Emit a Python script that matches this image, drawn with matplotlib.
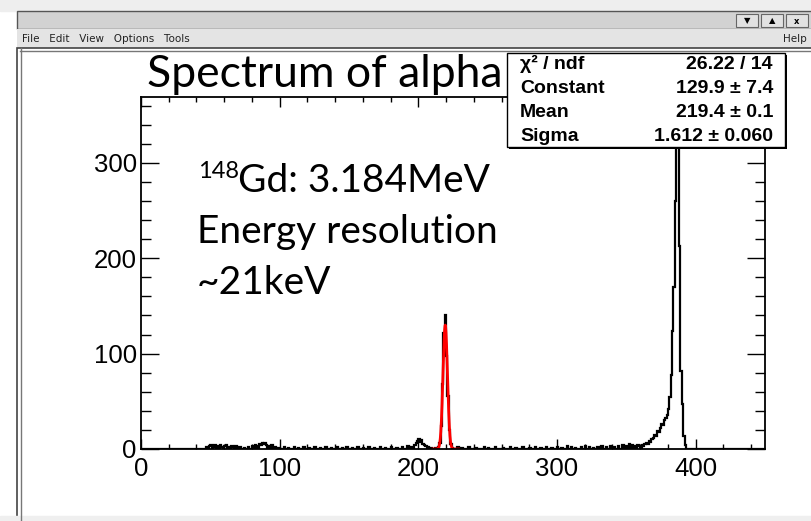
import numpy as np
import matplotlib
matplotlib.use("Agg")
import matplotlib.pyplot as plt
from matplotlib.patches import Rectangle

# --- data (1 channel per bin, 0..450) ---
noise_bins = [47, 49, 50, 52, 53, 55, 57, 58, 60, 61, 63, 65, 66, 68, 71, 74, 77, 80,
              82, 83, 85, 86, 87, 88, 89, 90, 92, 94, 96, 99, 103, 106, 110, 113, 117,
              121, 125, 129, 133, 137, 141, 145, 148, 152, 156, 160, 164, 168, 172, 176,
              180, 184, 188, 192, 195, 197, 198, 199, 200, 201, 202, 203, 204, 205, 207,
              209, 228, 231, 236, 241, 247, 250, 255, 261, 266, 270, 275, 280, 284, 288,
              292, 296, 300, 303, 307, 310, 313, 317, 320, 323, 326, 329, 332, 335, 338,
              341, 344, 347, 350, 352, 354, 356, 358, 359]
noise_counts = [2, 3, 4, 2, 4, 3, 4, 2, 3, 4, 2, 3, 2, 3, 2, 1, 2, 3,
                4, 3, 5, 4, 6, 5, 6, 4, 3, 4, 2, 1, 2, 1, 2, 1, 2,
                1, 2, 1, 2, 1, 2, 1, 2, 1, 2, 1, 2, 1, 2, 1,
                2, 1, 2, 3, 2, 4, 6, 8, 10, 7, 9, 5, 4, 3, 2,
                1, 2, 1, 2, 1, 2, 1, 2, 1, 2, 1, 2, 1, 2, 1,
                2, 1, 2, 1, 3, 2, 1, 2, 3, 2, 1, 2, 3, 2, 3,
                2, 3, 4, 3, 5, 4, 3, 4, 3]

gd_start = 212
gd_counts = [1, 0, 2, 6, 24, 68, 122, 140, 98, 56, 20, 5, 1]

am_start = 361
am_counts = [4, 3, 5, 6, 5, 8, 7, 10, 12, 15, 14, 19, 18, 22, 26, 25, 30, 33, 36, 42,
             55, 78, 124, 170, 260, 351, 318, 213, 82, 47, 14, 4]

# gaussian fit result (stats box)
fit_const, fit_mean, fit_sigma = 129.9, 219.4, 1.612
fit_range = (210.5, 229.0)

stats_labels = ["\u03c7\u00b2 / ndf", "Constant", "Mean", "Sigma"]
stats_values = ["26.22 / 14", "129.9 \u00b1 7.4", "219.4 \u00b1 0.1", "1.612 \u00b1 0.060"]

notes = ["Energy resolution", "~21keV"]

# --- histogram ---
edges = np.arange(0, 451)
counts = np.zeros(450)
for b, n in zip(noise_bins, noise_counts):
    counts[b] = n
counts[gd_start:gd_start + len(gd_counts)] = gd_counts
counts[am_start:am_start + len(am_counts)] = am_counts

W, H = 811, 521
fig = plt.figure(figsize=(W / 100, H / 100), dpi=100)
fig.patch.set_facecolor("white")

# background layer in pixel coordinates for the window chrome
bg = fig.add_axes([0, 0, 1, 1], zorder=-1)
bg.set_xlim(0, W)
bg.set_ylim(H, 0)
bg.axis("off")
bg.add_patch(Rectangle((0, 0), W, 11, color="#eeeeee"))
bg.add_patch(Rectangle((17, 11), W, 18, facecolor="#d2d2d2", edgecolor="#555555", lw=1))
bg.add_patch(Rectangle((17, 29), W, 19, facecolor="#e4e4e4", edgecolor="none"))
bg.add_patch(Rectangle((17, 48), W, H, facecolor="white", edgecolor="#444444", lw=1.2))
bg.plot([20.5, 20.5], [48, H], color="#777777", lw=1)
bg.plot([20, W], [50.5, 50.5], color="#777777", lw=1)
bg.add_patch(Rectangle((0, 516), W, 5, color="#efefef"))
for bx, glyph in zip([736, 761, 786], ["\u25bc", "\u25b2", "x"]):
    bg.add_patch(Rectangle((bx, 14), 22, 13, facecolor="#e2e2e2", edgecolor="#666666", lw=0.8))
    bg.text(bx + 11, 21, glyph, fontsize=6, ha="center", va="center", fontweight="bold")
bg.text(22, 39, "File   Edit   View   Options   Tools", fontsize=7.5, va="center",
        family="DejaVu Sans", color="#222222")
bg.text(807, 39, "Help", fontsize=7.5, va="center", ha="right", family="DejaVu Sans",
        color="#222222")

# --- main plot ---
ax = fig.add_axes([141 / W, 1 - 449 / H, 624 / W, 352 / H])
ax.stairs(counts, edges, color="black", lw=1.6)
xf = np.linspace(fit_range[0], fit_range[1], 300)
ax.plot(xf, fit_const * np.exp(-0.5 * ((xf - fit_mean) / fit_sigma) ** 2), color="red", lw=2.0)

ax.set_xlim(0, 450)
ax.set_ylim(0, 369)
ax.set_xticks([0, 100, 200, 300, 400])
ax.set_xticks(np.arange(0, 451, 20), minor=True)
ax.set_yticks([0, 100, 200, 300])
ax.set_yticks(np.arange(0, 369, 20), minor=True)
ax.tick_params(which="both", direction="in", top=True, right=True, width=1,
               labelsize=18.5, labelfontfamily="Liberation Sans")
ax.tick_params(axis="x", which="major", length=7.5, pad=6)
ax.tick_params(axis="x", which="minor", length=3.8)
ax.tick_params(axis="y", which="major", length=13, pad=3)
ax.tick_params(axis="y", which="minor", length=7)
for s in ax.spines.values():
    s.set_linewidth(1.3)

# --- overlay: title, annotation and stats box ---
fg = fig.add_axes([0, 0, 1, 1], zorder=10)
fg.set_xlim(0, W)
fg.set_ylim(H, 0)
fg.axis("off")
fg.patch.set_alpha(0)

fg.text(147, 87, "Spectrum of alpha", fontsize=32, family="Lato", va="baseline")
fg.text(198, 178, "148", fontsize=17, family="Lato", va="baseline")
fg.text(238, 192, "Gd: 3.184MeV", fontsize=28, family="Lato", va="baseline")
for i, line in enumerate(notes):
    fg.text(197, 243 + 51 * i, line, fontsize=28, family="Lato", va="baseline")

fg.add_patch(Rectangle((509, 55), 278, 94, facecolor="black", edgecolor="none", zorder=4))
fg.add_patch(Rectangle((507, 53), 278, 94, facecolor="white", edgecolor="black", lw=1, zorder=5))
for i, (lab, val) in enumerate(zip(stats_labels, stats_values)):
    y = 69 + 24 * i
    fg.text(520, y, lab, fontsize=14, fontweight="bold", family="Liberation Sans",
            va="baseline", zorder=6)
    fg.text(773, y, val, fontsize=14, fontweight="bold", family="Liberation Sans",
            va="baseline", ha="right", zorder=6)

fig.savefig("out.png", dpi=100)
